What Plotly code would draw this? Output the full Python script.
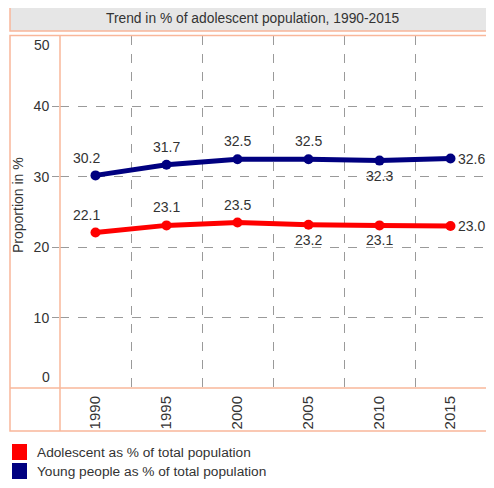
import plotly.graph_objects as go

years = ["1990", "1995", "2000", "2005", "2010", "2015"]
adolescent = [22.1, 23.1, 23.5, 23.2, 23.1, 23.0]
young = [30.2, 31.7, 32.5, 32.5, 32.3, 32.6]
series_names = ["Adolescent as % of total population", "Young people as % of total population"]
series_colors = ["#ff0000", "#000080"]
label_pos_adol = ["tl", "t", "t", "b", "b", "r"]
label_pos_young = ["tl", "t", "t", "t", "b", "r"]
y_ticks = [0, 10, 20, 30, 40, 50]
title_text = "Trend in % of adolescent population, 1990-2015"
y_title = "Proportion in %"

BORDER = "#f9b79a"
TXT = "#333333"
FONT = "Liberation Sans, Arial, sans-serif"

OFF = 8  # page body margin
W, H = 494 - 2 * OFF, 488 - 2 * OFF
L, R, T, B = 60 - OFF, 0, 36 - OFF, H - (388 - OFF)
PW, PH = W - L - R, H - T - B


def px(x):  # window pixel -> paper
    return (x - OFF - L) / PW


def py(y):
    return (H - B - (y - OFF)) / PH


fig = go.Figure()
for vals, name, col in zip([adolescent, young], series_names, series_colors):
    fig.add_trace(go.Scatter(
        x=years, y=vals, name=name, mode="lines+markers",
        line=dict(color=col, width=5), marker=dict(color=col, size=10),
        showlegend=False, hoverinfo="skip"))

annotations = []
offs = {"tl": (-9, 17, "center"), "t": (0, 18, "center"), "b": (0, -15, "center"), "r": (5, 0, "left")}
for vals, poss in [(adolescent, label_pos_adol), (young, label_pos_young)]:
    for i, (v, p) in enumerate(zip(vals, poss)):
        dx, dy, xa = offs[p]
        annotations.append(dict(x=i, y=v, xref="x", yref="y", text=f"{v:.1f}", showarrow=False,
                                xshift=dx, yshift=dy, xanchor=xa, yanchor="middle",
                                font=dict(size=14, color=TXT, family=FONT)))

for v, sh in [(y_ticks[0], 11), (y_ticks[-1], -9)]:
    annotations.append(dict(x=0, y=v, xref="paper", yref="y", text=str(v), showarrow=False,
                            xanchor="right", yanchor="middle", xshift=-8, yshift=sh,
                            font=dict(size=14, color=TXT, family=FONT)))

annotations.append(dict(x=px(253), y=py(19), xref="paper", yref="paper", text=title_text,
                        showarrow=False, xanchor="center", yanchor="middle",
                        font=dict(size=13.8, color=TXT, family=FONT)))
annotations.append(dict(x=px(18), y=py(205), xref="paper", yref="paper", text=y_title,
                        showarrow=False, textangle=-90, xanchor="center", yanchor="middle",
                        font=dict(size=14, color=TXT, family=FONT)))

shapes = [
    dict(type="rect", xref="paper", yref="paper", x0=px(10), x1=px(500), y0=py(31), y1=py(6),
         fillcolor="#e6e6e6", line=dict(color=BORDER, width=1.5), layer="above"),
    dict(type="rect", xref="paper", yref="paper", x0=px(10), x1=px(500), y0=py(431), y1=py(35.5),
         fillcolor="rgba(0,0,0,0)", line=dict(color=BORDER, width=1.5), layer="above"),
    dict(type="line", xref="paper", yref="paper", x0=px(10), x1=px(500), y0=0, y1=0,
         line=dict(color=BORDER, width=1.5), layer="above"),
    dict(type="line", xref="paper", yref="paper", x0=0, x1=0, y0=py(431), y1=py(35.5),
         line=dict(color=BORDER, width=1.5), layer="above"),
]

leg_y = [452, 471]
for name, col, cy in zip(series_names, series_colors, leg_y):
    shapes.append(dict(type="rect", xref="paper", yref="paper", x0=px(12), x1=px(27),
                       y0=py(cy + 8), y1=py(cy - 8), fillcolor=col, line=dict(width=0)))
    annotations.append(dict(x=px(35), y=py(cy), xref="paper", yref="paper", text=name,
                            showarrow=False, xanchor="left", yanchor="middle",
                            font=dict(size=13.7, color=TXT, family=FONT)))

fig.update_layout(
    width=W, height=H, margin=dict(l=L, r=R, t=T, b=B, pad=0),
    paper_bgcolor="white", plot_bgcolor="white",
    font=dict(family=FONT, color=TXT),
    annotations=annotations, shapes=shapes, showlegend=False,
    xaxis=dict(type="category", range=[-0.5, 5.5], tickson="boundaries", showgrid=True,
               gridcolor="#9a9a9a", griddash="dash", gridwidth=1, ticks="", tickangle=-90,
               tickfont=dict(size=15, color=TXT, family=FONT), showline=False, zeroline=False,
               ticklabelstandoff=4, fixedrange=True),
    yaxis=dict(range=[0, 50], tickvals=y_ticks[1:-1], showgrid=True, gridcolor="#9a9a9a",
               griddash="dash", gridwidth=1, ticks="outside", ticklen=7, tickcolor="#9a9a9a",
               tickfont=dict(size=14, color=TXT, family=FONT), showline=False, zeroline=False,
               fixedrange=True),
)

fig.write_html("out.html")
